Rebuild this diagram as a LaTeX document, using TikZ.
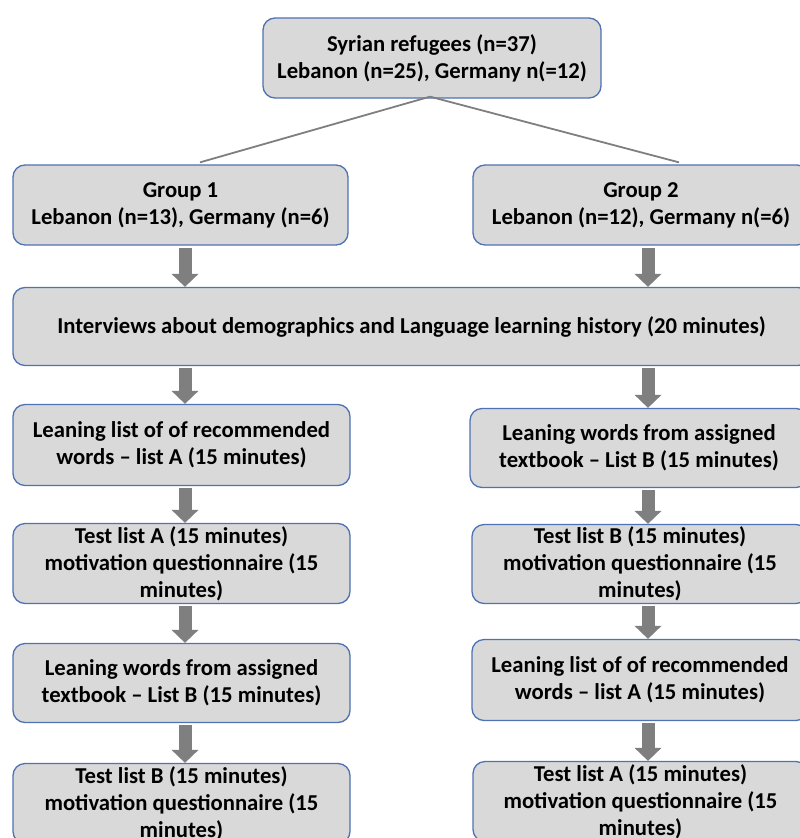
\documentclass[tikz,border=0pt]{standalone}
\usepackage{fontspec}
\setmainfont{Carlito}
\usetikzlibrary{arrows.meta}
\definecolor{boxfill}{HTML}{D9D9D9}
\definecolor{boxline}{HTML}{4F72B3}
\definecolor{arrgray}{HTML}{7F7F7F}
\begin{document}
\begin{tikzpicture}[x=1pt,y=-1pt,
  box/.style={draw=boxline, line width=1.3pt, fill=boxfill, rounded corners=12pt,
    align=center, inner sep=0pt, minimum width=337pt, minimum height=80pt,
    font=\bfseries\fontsize{22.7}{27}\selectfont},
  blk/.style={draw=arrgray, line width=13pt,
    -{Triangle[length=13pt,width=27pt,line width=0pt]}, shorten <=2pt},
  link/.style={draw=arrgray, line width=1.8pt}]
\useasboundingbox (0,0) rectangle (800,838);
\clip (0,0) rectangle (800,838);
\coordinate (lx) at (185,0);
\coordinate (rx) at (648,0);

\node[box, minimum width=338pt] (top) at (432,58)
  {Syrian refugees (n=37)\\Lebanon (n=25), Germany n(=12)};
\node[box, minimum width=335pt] (g1) at (180.5,205)
  {Group 1\\Lebanon (n=13), Germany (n=6)};
\node[box, minimum width=336pt] (g2) at (641,205)
  {Group 2\\Lebanon (n=12), Germany n(=6)};
\node[box, minimum width=797pt, minimum height=78pt] (intv) at (411.5,326.5)
  {Interviews about demographics and Language learning history (20 minutes)};

\node[box, minimum height=81pt] (l1) at (181.5,445)
  {Leaning list of of recommended\\words -- list A (15 minutes)};
\node[box] (l2) at (181.5,563.5)
  {Test list A (15 minutes)\\motivation questionnaire (15\\minutes)};
\node[box, minimum height=79pt] (l3) at (181.5,683)
  {Leaning words from assigned\\textbook -- List B (15 minutes)};
\node[box] (l4) at (181.5,803.5)
  {Test list B (15 minutes)\\motivation questionnaire (15\\minutes)};

\node[box, minimum width=338pt, minimum height=79pt] (r1) at (639,448)
  {Leaning words from assigned\\textbook -- List B (15 minutes)};
\node[box, minimum width=336pt, minimum height=79pt] (r2) at (640,564)
  {Test list B (15 minutes)\\motivation questionnaire (15\\minutes)};
\node[box, minimum width=336pt, minimum height=81pt] (r3) at (640,680)
  {Leaning list of of recommended\\words -- list A (15 minutes)};
\node[box, minimum width=335pt] (r4) at (640.5,801.5)
  {Test list A (15 minutes)\\motivation questionnaire (15\\minutes)};

\draw[link] ([xshift=-2pt,yshift=2pt]top.south) -- ([xshift=19.5pt,yshift=2pt]g1.north);
\draw[link] ([xshift=-2pt,yshift=2pt]top.south) -- ([xshift=38pt,yshift=2pt]g2.north);

\draw[blk] (g1.south -| lx) -- (intv.north -| lx);
\draw[blk] (g2.south -| rx) -- (intv.north -| rx);
\draw[blk] (intv.south -| lx) -- (l1.north -| lx);
\draw[blk] (l1.south -| lx) -- (l2.north -| lx);
\draw[blk] (l2.south -| lx) -- (l3.north -| lx);
\draw[blk] (l3.south -| lx) -- (l4.north -| lx);
\draw[blk] (intv.south -| rx) -- (r1.north -| rx);
\draw[blk] (r1.south -| rx) -- (r2.north -| rx);
\draw[blk] (r2.south -| rx) -- (r3.north -| rx);
\draw[blk] (r3.south -| rx) -- (r4.north -| rx);
\end{tikzpicture}
\end{document}
